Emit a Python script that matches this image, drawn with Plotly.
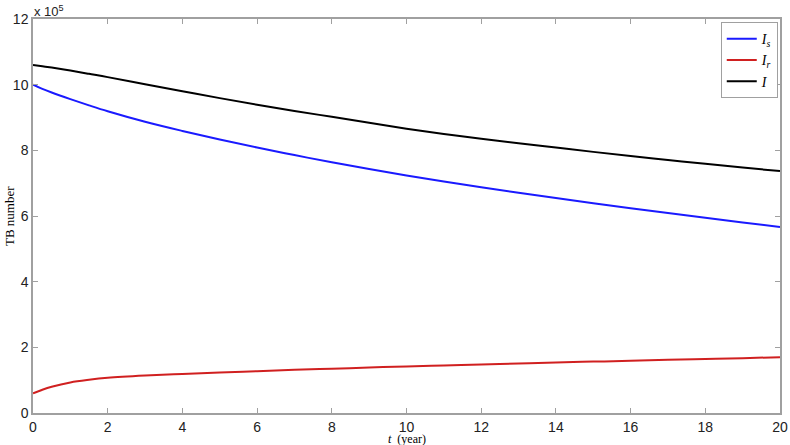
import plotly.graph_objects as go

# time (years)
t = [0, 0.25, 0.5, 1, 1.5, 2, 3, 4, 5, 6, 7, 8, 9, 10, 11, 12, 13, 14, 15, 16, 17, 18, 19, 20]
# values in units of 1e5
Is = [10.00, 9.87, 9.76, 9.56, 9.37, 9.19, 8.87, 8.59, 8.33, 8.085, 7.855, 7.635, 7.43, 7.235, 7.05,
      6.875, 6.707, 6.545, 6.388, 6.236, 6.088, 5.944, 5.804, 5.667]
Ir = [0.60, 0.71, 0.80, 0.93, 1.01, 1.07, 1.14, 1.19, 1.235, 1.275, 1.315, 1.35, 1.385, 1.42, 1.45,
      1.48, 1.51, 1.54, 1.565, 1.59, 1.62, 1.645, 1.67, 1.70]
I = [10.60, 10.56, 10.52, 10.43, 10.33, 10.23, 10.01, 9.80, 9.59, 9.39, 9.20, 9.02, 8.84, 8.66,
     8.50, 8.355, 8.217, 8.085, 7.953, 7.826, 7.708, 7.589, 7.474, 7.367]

names = ["<i>I<sub>s</sub></i>", "<i>I<sub>r</sub></i>", "<i>I</i>"]
colors = ["#1a1aff", "#d02020", "#000000"]
xticks = list(range(0, 21, 2))
yticks = list(range(0, 13, 2))

fig = go.Figure()
for y, n, c in zip([Is, Ir, I], names, colors):
    fig.add_trace(go.Scatter(x=t, y=y, mode="lines", name=n,
                             line=dict(color=c, width=2, shape="spline", smoothing=1.0)))

axis_common = dict(showline=True, linecolor="#a0a0a0", linewidth=1.5, mirror="allticks",
                   ticks="inside", ticklen=5, tickcolor="#a0a0a0", showgrid=False, zeroline=False,
                   automargin=False,
                   tickfont=dict(family="Liberation Sans, Arial", size=14, color="#222"))

fig.update_xaxes(range=[0, 20], tickvals=xticks, ticktext=[str(v) for v in xticks], **axis_common)
fig.update_yaxes(range=[0, 12], tickvals=yticks, ticktext=[str(v) for v in yticks], **axis_common)

fig.update_layout(
    width=790, height=445,
    margin=dict(l=33, r=10, t=19, b=32),
    paper_bgcolor="white", plot_bgcolor="white",
    showlegend=True,
    legend=dict(x=0.997, y=0.992, xanchor="right", yanchor="top",
                bordercolor="#a0a0a0", borderwidth=1, bgcolor="white",
                itemwidth=30, tracegroupgap=0,
                font=dict(family="Liberation Serif, Times New Roman", size=14, color="#000")),
    annotations=[
        dict(text="x 10<sup>5</sup>", x=0, y=1, xref="paper", yref="paper", xanchor="left",
             yanchor="bottom", showarrow=False, xshift=-1, yshift=-2,
             font=dict(family="Liberation Sans, Arial", size=13, color="#222")),
        dict(text="<i>t</i>  (year)", x=0.5, y=0, xref="paper", yref="paper", xanchor="center",
             yanchor="top", showarrow=False, yshift=-17,
             font=dict(family="Liberation Serif, Times New Roman", size=12, color="#000")),
        dict(text="TB number", x=0, y=0.5, xref="paper", yref="paper", xanchor="center",
             yanchor="middle", showarrow=False, textangle=-90, xshift=-24,
             font=dict(family="Liberation Serif, Times New Roman", size=13, color="#000")),
    ],
)

fig.write_html("out.html", config={"displayModeBar": False},
               post_script="document.body.style.margin='0';")
